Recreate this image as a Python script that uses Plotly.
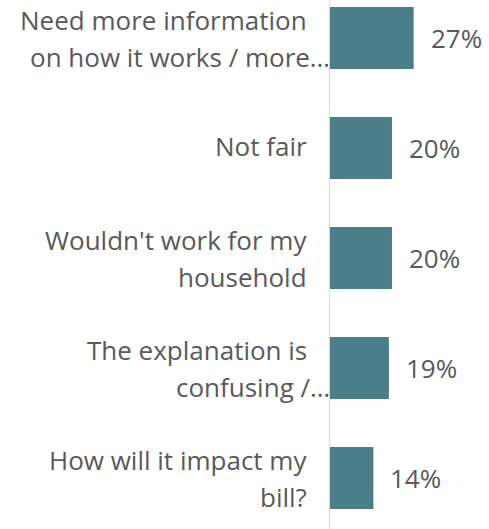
import plotly.graph_objects as go

categories = [
    "Need more information\non how it works / more…",
    "Not fair",
    "Wouldn't work for my\nhousehold",
    "The explanation is\nconfusing /…",
    "How will it impact my\nbill?",
]
values = [27, 20, 20, 19, 14]
value_labels = [f"{v}%" for v in values]

bar_color = "#4a7f8a"
text_color = "#595959"
font_family = "Open Sans"
font_size = 26

positions = list(range(len(categories)))

fig = go.Figure(
    go.Bar(
        x=values,
        y=positions,
        orientation="h",
        marker=dict(color=bar_color, line=dict(width=0)),
        width=0.564,
        hoverinfo="skip",
    )
)

# value labels to the right of each bar
for p, v, lab in zip(positions, values, value_labels):
    fig.add_annotation(
        x=v, y=p, text=lab, showarrow=False,
        xanchor="left", yanchor="middle", xshift=15, yshift=0,
        font=dict(size=font_size, color=text_color, family=font_family),
    )

# category labels, one annotation per line so the line spacing can be set
line_gap = 37
for p, cat in zip(positions, categories):
    lines = cat.split("\n")
    n = len(lines)
    for i, line in enumerate(lines):
        offset = (i - (n - 1) / 2) * line_gap
        truncated = line.endswith("…")
        fig.add_annotation(
            x=0, y=p, text=line, showarrow=False,
            xref="x", yref="y",
            xanchor="right", yanchor="middle",
            xshift=2 if truncated else -21,
            yshift=-offset + (2 if n == 1 else -1),
            font=dict(size=font_size, color=text_color, family=font_family),
        )

fig.update_layout(
    width=489, height=529,
    margin=dict(l=330, r=0, t=0, b=0),
    paper_bgcolor="white", plot_bgcolor="white",
    showlegend=False,
    font=dict(family=font_family, size=font_size, color=text_color),
    xaxis=dict(range=[0, 51.3], visible=False),
    yaxis=dict(
        range=[4.464, -0.345],
        showticklabels=False,
        showline=True, linecolor="#d9d9d9", linewidth=1,
        showgrid=False, zeroline=False, ticks="",
    ),
)

fig.write_html("out.html")
